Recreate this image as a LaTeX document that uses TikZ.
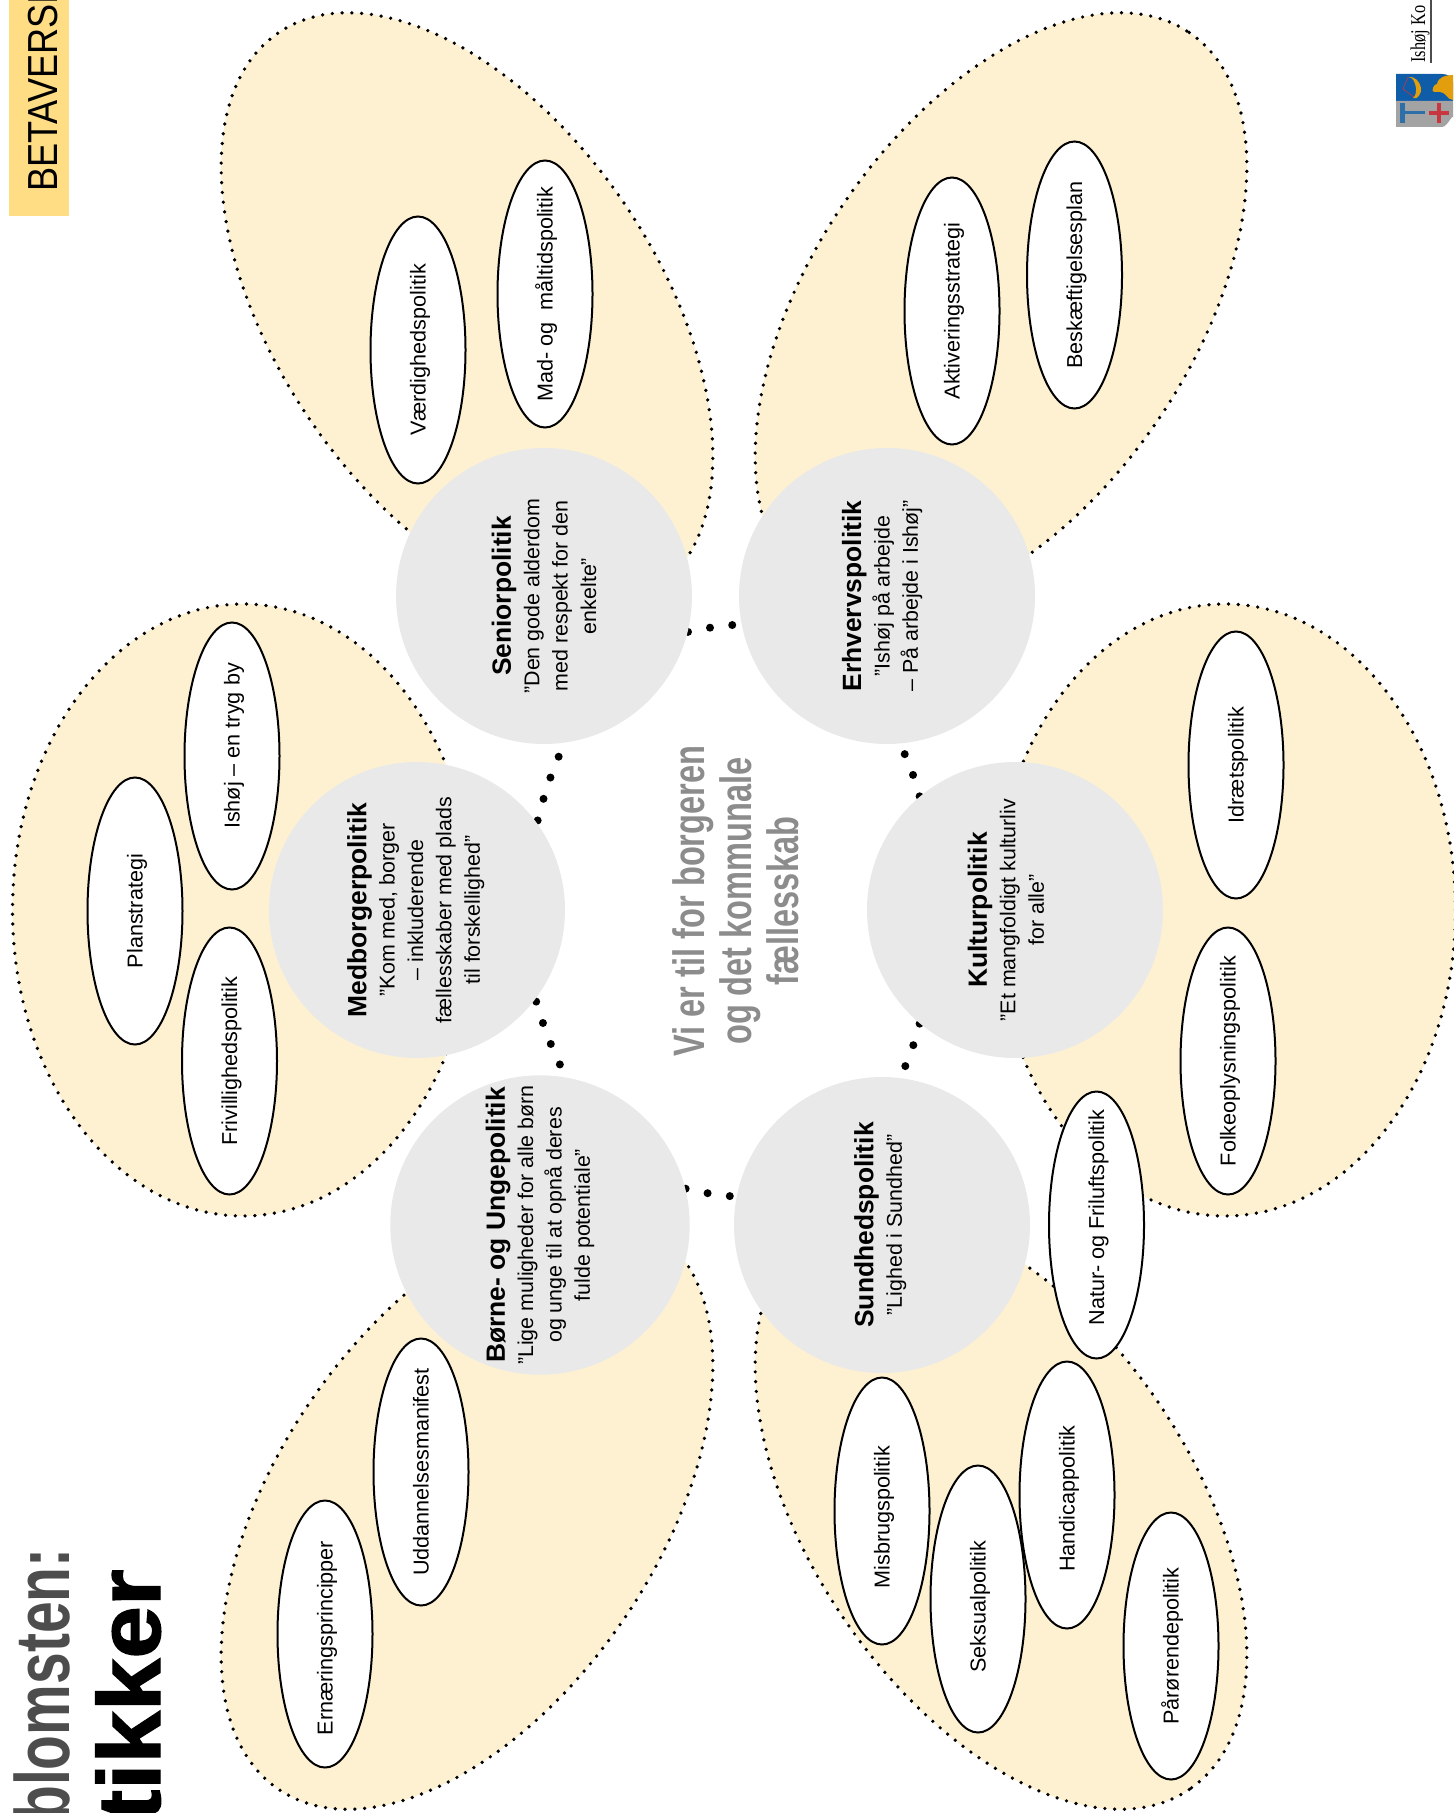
\documentclass[tikz,border=0pt]{standalone}
\usepackage{fontspec}
\setmainfont{Liberation Sans}
\newfontfamily\slimfont[FakeStretch=0.74]{Liberation Sans}
\newfontfamily\bannerfont[FakeStretch=0.86]{Liberation Sans}
\newfontfamily\heavyfont[FakeBold=1.5,FakeStretch=1.06]{Liberation Sans}
\newfontfamily\logofont[FakeStretch=0.78]{Liberation Serif}
\usetikzlibrary{shapes.geometric,backgrounds}
\definecolor{petalfill}{HTML}{FEF1D2}
\definecolor{discgray}{HTML}{E9E9E9}
\definecolor{bandgold}{HTML}{FEDD85}
\definecolor{centergray}{HTML}{8C8C8C}
\definecolor{titlegray}{HTML}{4D4D4D}
\definecolor{shieldblue}{HTML}{0F5CA8}
\definecolor{shieldgray}{HTML}{A3A3A3}
\definecolor{shieldgold}{HTML}{E29E0C}
\definecolor{shieldred}{HTML}{C8373F}
\definecolor{shieldsteel}{HTML}{2F6FA8}
\newcommand{\polhead}[1]{{\fontsize{13.2}{14.2}\selectfont\bfseries #1}}

\begin{document}
\begin{tikzpicture}[x=0.5pt,y=-0.5pt,
	petal/.style={draw=black,fill=petalfill,line width=1.85pt,line cap=round,dash pattern=on 0pt off 4.9pt},
	linkdots/.style={line width=4pt,line cap=round,dash pattern=on 0pt off 11.2pt},
	disc/.style={circle,fill=discgray,minimum size=148pt,inner sep=0pt,rotate=90,align=center,
		font=\fontsize{10.7}{14.2}\selectfont},
	oval/.style={ellipse,draw=black,fill=white,line width=1pt,rotate=90,minimum width=133.5pt,
		minimum height=47.5pt,inner sep=-20pt,text height=7.7pt,text depth=0pt,font=\fontsize{10.8}{13}\selectfont},
	]
	\useasboundingbox (0,0) rectangle (1453,1813);

	% discs
	\node[disc] (senior) at (544,596) {\polhead{Seniorpolitik}\\”Den gode alderdom\\med respekt for den\\enkelte”};
	\node[disc] (erhverv) at (887,596) {\polhead{Erhvervspolitik}\\”Ishøj på arbejde\\– På arbejde i Ishøj”\\[-7.2pt]\mbox{}};
	\node[disc] (medborger) at (417,910) {\polhead{Medborgerpolitik}\\”Kom med, borger\\– inkluderende\\fællesskaber med plads\\til forskellighed”\\[-10.7pt]\mbox{}};
	\node[disc] (kultur) at (1015,910) {\polhead{Kulturpolitik}\\”Et mangfoldigt kulturliv\\for alle”\\[-5pt]\mbox{}};
	\node[disc] (boerne) at (540,1225) {\polhead{Børne- og Ungepolitik}\\”Lige muligheder for alle børn\\og unge til at opnå deres\\fulde potentiale”};
	\node[disc] (sundhed) at (882,1225) {\polhead{Sundhedspolitik}\\”Lighed i Sundhed”\\[-10.2pt]\mbox{}};

	% ovals
	\node[oval] (vaerdighed) at (418,350) {Værdighedspolitik};
	\node[oval] (mad) at (545,294) {Mad- og\ \ måltidspolitik};
	\node[oval] (aktivering) at (952,311) {Aktiveringsstrategi};
	\node[oval] (beskaeftigelse) at (1074.5,275) {Beskæftigelsesplan};
	\node[oval] (tryg) at (232,756) {\hspace*{10pt}Ishøj – en tryg by};
	\node[oval] (plan) at (135,911) {Planstrategi};
	\node[oval] (frivillig) at (229.5,1061) {Frivillighedspolitik};
	\node[oval] (idraet) at (1236,765) {Idrætspolitik};
	\node[oval] (folkeoplysning) at (1228,1061) {Folkeoplysningspolitik};
	\node[oval] (natur) at (1096.5,1225) {\hspace*{7.5pt}Natur- og Friluftspolitik};
	\node[oval] (misbrug) at (882,1511) {Misbrugspolitik\hspace*{6pt}};
	\node[oval] (seksual) at (978,1599) {Seksualpolitik\hspace*{7.5pt}};
	\node[oval] (handicap) at (1067,1495) {Handicappolitik\hspace*{3.5pt}};
	\node[oval] (paaroerende) at (1171,1646) {Pårørendepolitik};
	\node[oval] (uddannelse) at (421,1472) {Uddannelsesmanifest};
	\node[oval] (ernaering) at (325,1634) {Ernæringsprincipper\hspace*{4pt}};

	% petals and links lie under the discs
	\begin{scope}[on background layer]
		\foreach \cx/\cy/\tilt in {467/311.5/-56,1001/311.5/56,467/1510.5/56,1001/1510.5/-56}
			\draw[petal,rotate around={\tilt:(\cx,\cy)}] (\cx,\cy) ellipse [x radius=336.5,y radius=190.8];
		\draw[petal] (243,910) ellipse [x radius=230.5,y radius=306];
		\draw[petal] (1225,910) ellipse [x radius=230.5,y radius=306];
		\draw[linkdots] (senior.-104) to[bend left=4] (erhverv.101);
		\draw[linkdots] (boerne.-76) to[bend right=4] (sundhed.79);
		\draw[linkdots,dash phase=10pt] (medborger.-54) to[bend left=5] (senior.-172);
		\draw[linkdots,dash phase=10pt] (medborger.-127) to[bend right=5] (boerne.-10);
		\draw[linkdots] (kultur.40) to[bend right=5] (erhverv.-175);
		\draw[linkdots] (kultur.140) to[bend left=5] (sundhed.-7);
	\end{scope}

	% centre text and headings
	\node[rotate=90,align=center,text=centergray,font=\fontsize{22}{23.5}\selectfont\slimfont\bfseries] (motto) at (736,901)
		{Vi er til for borgeren\\og det kommunale\\fællesskab};
	\node[rotate=90,anchor=base east,inner sep=0pt,text=titlegray,font=\fontsize{38.5}{44}\selectfont\slimfont\bfseries] (blomst) at (69,1548) {blomsten:};
	\node[rotate=90,anchor=base east,inner sep=0pt,font=\fontsize{44.5}{48}\selectfont\heavyfont\bfseries] (tikker) at (160,1569) {itikker};

	% banner
	\fill[bandgold] (9,0) rectangle (69,216);
	\node[rotate=90,anchor=base west,inner sep=0pt,font=\fontsize{21}{23}\selectfont\bannerfont] (banner) at (57,192) {BETAVERSI};

	% logo
	\node[rotate=90,anchor=base west,inner sep=0pt,font=\fontsize{10.5}{13}\selectfont\logofont] (kommune) at (1425,63) {Ishøj Ko};
	\draw[line width=0.6pt,black!70] (1431,0) -- (1431,63);
	\fill[shieldblue] (1396,74) -- (1442,74) to[out=0,in=90] (1453,82) -- (1453,101) -- (1396,101) -- cycle;
	\fill[shieldgray] (1396,101) -- (1453,101) -- (1453,118) to[out=90,in=0] (1442,127) -- (1396,127) -- cycle;
	\fill[shieldgold] (1453,75) to[out=180,in=80] (1437,84) to[out=170,in=180] (1434,92) to[out=0,in=170] (1440,92) to[out=0,in=180] (1453,100) -- cycle;
	\fill[shieldgold] (1408,77) to[out=10,in=100] (1421,88) to[out=-80,in=-30] (1413,98) to[out=40,in=-90] (1416,88) to[out=100,in=0] (1408,77) -- cycle;
	\draw[shieldred,line width=0.3pt] (1408,77) -- (1403,89) -- (1414,97);
	\fill[shieldsteel] (1400,103) rectangle (1405,123);
	\draw[shieldsteel,line width=1.5pt] (1405,113) -- (1425,113);
	\draw[shieldred,line width=1.6pt] (1429,113) -- (1449,113) (1439,103) -- (1439,123);
\end{tikzpicture}
\end{document}
